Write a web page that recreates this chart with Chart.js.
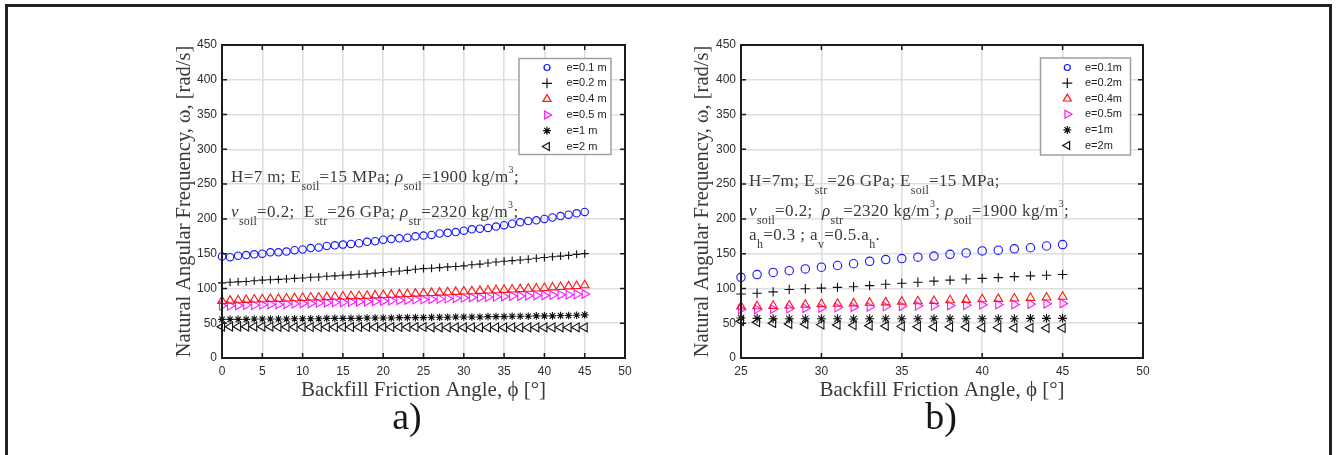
<!DOCTYPE html>
<html>
<head>
<meta charset="utf-8">
<script src="https://cdn.jsdelivr.net/npm/chart.js@4.4.1/dist/chart.umd.min.js"></script>
<style>
  html, body { margin: 0; padding: 0; background: #fff; width: 1336px; height: 455px; overflow: hidden; }
  #frame { position: absolute; left: 5px; top: 4px; width: 1321px; height: 520px; border: 3px solid #222; border-bottom: none; }
  .panel { position: absolute; top: 30px; width: 500px; height: 395px; }
  .note { position: absolute; font-family: 'Liberation Serif', 'DejaVu Serif', serif; font-size: 17px; line-height: 17px; letter-spacing: 0.4px; color: #3a3a3a; white-space: nowrap; }
  .note sub { font-size: 12px; vertical-align: -8px; line-height: 0; letter-spacing: 0.2px; }
  .note sup { font-size: 10px; vertical-align: 9px; line-height: 0; }
  .tag { position: absolute; top: 397px; width: 80px; text-align: center; font-family: 'Liberation Serif', serif; font-size: 38px; line-height: 38px; color: #161616; }
</style>
</head>
<body>
<div id="frame"></div>
<div class="panel" style="left:150px"><canvas id="chartA" width="500" height="395"></canvas></div>
<div class="panel" style="left:670px"><canvas id="chartB" width="500" height="395"></canvas></div>

<div class="note" style="left:231px; top:168px">H=7 m; E<sub>soil</sub>=15 MPa; <i>ρ</i><sub>soil</sub>=1900 kg/m<sup>3</sup>;</div>
<div class="note" style="left:231px; top:203px"><i>ν</i><sub>soil</sub>=0.2;&nbsp; E<sub>str</sub>=26 GPa; <i>ρ</i><sub>str</sub>=2320 kg/m<sup>3</sup>;</div>

<div class="note" style="left:749px; top:172px">H=7m; E<sub>str</sub>=26 GPa; E<sub>soil</sub>=15 MPa;</div>
<div class="note" style="left:749px; top:202px"><i>ν</i><sub>soil</sub>=0.2;&nbsp; <i>ρ</i><sub>str</sub>=2320 kg/m<sup>3</sup>; <i>ρ</i><sub>soil</sub>=1900 kg/m<sup>3</sup>;</div>
<div class="note" style="left:749px; top:226px">a<sub>h</sub>=0.3 ; a<sub>v</sub>=0.5.a<sub>h</sub>.</div>

<div class="tag" style="left:367px">a)</div>
<div class="tag" style="left:901px">b)</div>

<script>
// Panel a): friction angle 0..45 deg
const anglesA = [0,1,2,3,4,5,6,7,8,9,10,11,12,13,14,15,16,17,18,19,20,21,22,23,24,25,26,27,28,29,30,31,32,33,34,35,36,37,38,39,40,41,42,43,44,45];
const omegaA_e01 = [146,145,147,148,149,150,152,152,153,155,156,158,159,161,162,163,164,165,167,168,170,171,172,173,175,176,177,179,180,181,183,185,186,187,189,191,193,195,197,198,200,202,204,206,208,210];
const omegaA_e02 = [108,109,109.5,110,111,112,112.5,113,113.5,114.5,115,116,116.5,117.5,118,119,119.5,120.5,121,122,123,124,125,126,127.5,128.5,129,130,131,131.5,132.5,134,135,136.5,138,139,140,141,142,143.5,144.5,145.5,146.5,147.5,149,150];
const omegaA_e04 = [82,82.5,83,83.5,84,84.5,85,85,85.5,86,86.5,87,87,87.5,88,88.5,89,89,89.5,90,90.5,91,91.5,92,92.5,93,93.5,94,94.5,95,95.5,96,96.5,97,97.5,98,98.5,99,99.5,100,100.5,101.5,102,103,103.5,104.5];
const omegaA_e05 = [75,75,75.5,76,76,76.5,77,77,77.5,78,78.5,78.5,79,79.5,80,80,80.5,81,81,81.5,82,82.5,83,83.5,84,84,84.5,85,85.5,86,86.5,87,87,87.5,88,88.5,89,89,89.5,90,90,90.5,91,91,91.5,92];
const omegaA_e1 = [55.5,55.5,55.5,55.5,56,56,56,56,56,56.5,56.5,56.5,56.5,57,57,57,57,57,57.5,57.5,57.5,57.5,58,58,58,58,58.5,58.5,58.5,59,59,59,59,59.5,59.5,59.5,60,60,60,60.5,60.5,60.5,61,61,61.5,62];
const omegaA_e2 = [45,45,45,45,45,45,45,44.5,44.5,44.5,44.5,44.5,44.5,44.5,44.5,44.5,44.5,44.5,44.5,44.5,44.5,44.5,44.5,44.5,44.5,44.5,44,44,44,44,44,44,44,44,44,44,44,44,44,44,44,44,44,44,44,44];
const labelsA = ['e=0.1 m','e=0.2 m','e=0.4 m','e=0.5 m','e=1 m','e=2 m'];

// Panel b): friction angle 25..45 deg
const anglesB = [25,26,27,28,29,30,31,32,33,34,35,36,37,38,39,40,41,42,43,44,45];
const omegaB_e01 = [116,120,123,125.5,128,130.5,133,135.5,139,141.5,143,145,146.5,149,151,154,155,157,158.5,161,163];
const omegaB_e02 = [92,93,95,98.5,99.5,100.5,101.5,102.5,104,106,107.5,109,110.5,112,113.5,114.5,115.5,117,118,119,120];
const omegaB_e04 = [74,74.5,75,75.5,76.5,77.5,78,78.5,79.5,80,81,81.5,82,83,83.5,84.5,85,85.5,86.5,87,88];
const omegaB_e05 = [70,70,70.5,71,71.5,72,72.5,73,73.5,74,74.5,75,75,75.5,76,76.5,77,77,77.5,78,78.5];
const omegaB_e1 = [57.5,57,56.5,56.5,56.5,56.5,56.5,56,56.5,56.5,56.5,56.5,56.5,56.5,56.5,56.5,56.5,56.5,57,57,57];
const omegaB_e2 = [53,51.5,50,49,48.5,48,47.5,47,46.5,46,45.5,45,45,44.5,44.5,44,44,43.5,43.5,43,43];
const labelsB = ['e=0.1m','e=0.2m','e=0.4m','e=0.5m','e=1m','e=2m'];

// Marker look per eccentricity
const markers = [
  { pointStyle: 'circle',   color: '#1414ff', rotation: 0 },
  { pointStyle: 'cross',    color: '#111111', rotation: 0 },
  { pointStyle: 'triangle', color: '#ff1414', rotation: 0 },
  { pointStyle: 'triangle', color: '#ff14ff', rotation: 90 },
  { pointStyle: 'star',     color: '#111111', rotation: 0 },
  { pointStyle: 'triangle', color: '#111111', rotation: 270 }
];

// Closed axes box with inward ticks, then the boxed legend
const axesDecor = {
  id: 'axesDecor',
  afterDatasetsDraw(chart, args, opts) {
    const { ctx, chartArea: a } = chart;
    const xs = chart.scales.x, ys = chart.scales.y;
    ctx.save();
    ctx.strokeStyle = '#1c1c1c';
    ctx.lineWidth = 1.5;
    ctx.beginPath();
    ys.ticks.forEach(t => {
      const py = ys.getPixelForValue(t.value);
      ctx.moveTo(a.left, py); ctx.lineTo(a.left + 5, py);
      ctx.moveTo(a.right, py); ctx.lineTo(a.right - 5, py);
    });
    xs.ticks.forEach(t => {
      const px = xs.getPixelForValue(t.value);
      ctx.moveTo(px, a.bottom); ctx.lineTo(px, a.bottom - 5);
      ctx.moveTo(px, a.top); ctx.lineTo(px, a.top + 5);
    });
    ctx.stroke();
    ctx.lineWidth = 2;
    ctx.strokeRect(a.left, a.top, a.right - a.left, a.bottom - a.top);

    // legend
    const L = opts.legend;
    ctx.fillStyle = '#ffffff';
    ctx.fillRect(L.left, L.top, L.width, L.height);
    ctx.strokeStyle = '#a0a0a0';
    ctx.lineWidth = 1.5;
    ctx.strokeRect(L.left, L.top, L.width, L.height);
    ctx.font = '11px "Liberation Sans", Arial, sans-serif';
    ctx.textBaseline = 'middle';
    ctx.textAlign = 'left';
    chart.data.datasets.forEach((ds, i) => {
      const y = L.top + L.firstRow + i * L.rowGap;
      ctx.strokeStyle = ds.pointBorderColor;
      ctx.fillStyle = 'rgba(0,0,0,0)';
      ctx.lineWidth = 1.2;
      Chart.helpers.drawPoint(ctx, {
        pointStyle: ds.pointStyle,
        rotation: ds.pointRotation,
        radius: L.radius[ds.pointStyle],
        borderWidth: 1.2
      }, L.markerX, y);
      ctx.fillStyle = '#1e1e1e';
      ctx.fillText(ds.label, L.textX, y);
    });
    ctx.restore();
  }
};

function buildDatasets(angles, series, labels, radii) {
  return series.map((vals, i) => ({
    label: labels[i],
    data: angles.map((a, k) => ({ x: a, y: vals[k] })),
    showLine: false,
    pointStyle: markers[i].pointStyle,
    pointRotation: markers[i].rotation,
    pointRadius: radii[i],
    pointBorderColor: markers[i].color,
    pointBackgroundColor: 'rgba(0,0,0,0)',
    pointBorderWidth: 1.1,
    clip: false
  }));
}

function buildChart(id, datasets, xMin, yTitlePad, padRight, yAxisWidth, legendBox) {
  const tickFont = { family: '"Liberation Sans", Arial, sans-serif', size: 12 };
  const titleFont = { family: '"Liberation Serif", "DejaVu Serif", serif' };
  return new Chart(document.getElementById(id), {
    type: 'scatter',
    data: { datasets },
    options: {
      responsive: false,
      animation: false,
      events: [],
      layout: { padding: { left: 0, right: padRight, top: 15, bottom: 0 } },
      plugins: {
        legend: { display: false },
        tooltip: { enabled: false },
        axesDecor: { legend: legendBox }
      },
      scales: {
        x: {
          type: 'linear', min: xMin, max: 50,
          ticks: { stepSize: 5, padding: 6, font: tickFont, color: '#2e2e2e' },
          grid: { color: '#dedede', lineWidth: 1.6, drawTicks: false },
          border: { display: false },
          title: { display: true, text: 'Backfill Friction Angle, ϕ [°]', color: '#3a3a3a',
                   font: Object.assign({ size: 21 }, titleFont), padding: { top: 0, bottom: 22 } },
          afterFit(s) { s.height = 67; }
        },
        y: {
          type: 'linear', min: 0, max: 450,
          ticks: { stepSize: 50, padding: 5, font: tickFont, color: '#2e2e2e' },
          grid: { color: '#dedede', lineWidth: 1.6, drawTicks: false },
          border: { display: false },
          title: { display: true, text: 'Natural Angular Frequency, ω, [rad/s]', color: '#3a3a3a',
                   font: Object.assign({ size: 20.5 }, titleFont), padding: { top: yTitlePad, bottom: 0 } },
          afterFit(s) { s.width = yAxisWidth; }
        }
      }
    },
    plugins: [axesDecor]
  });
}

const legendRadius = { circle: 3, cross: 5, triangle: 4.6, star: 4 };

buildChart('chartA',
  buildDatasets(anglesA, [omegaA_e01, omegaA_e02, omegaA_e04, omegaA_e05, omegaA_e1, omegaA_e2], labelsA, [3.7, 4, 5, 5, 3.8, 5]),
  0, 22.5, 25, 72,
  { left: 369, top: 28.5, width: 92, height: 96, firstRow: 9, rowGap: 15.8, markerX: 397, textX: 416.5, radius: legendRadius });

buildChart('chartB',
  buildDatasets(anglesB, [omegaB_e01, omegaB_e02, omegaB_e04, omegaB_e05, omegaB_e1, omegaB_e2], labelsB, [4.2, 4.7, 5, 5, 4.5, 5]),
  25, 20.5, 27, 71,
  { left: 370.5, top: 28, width: 90, height: 97, firstRow: 9.5, rowGap: 15.6, markerX: 397.3, textX: 415, radius: legendRadius });
</script>
</body>
</html>
